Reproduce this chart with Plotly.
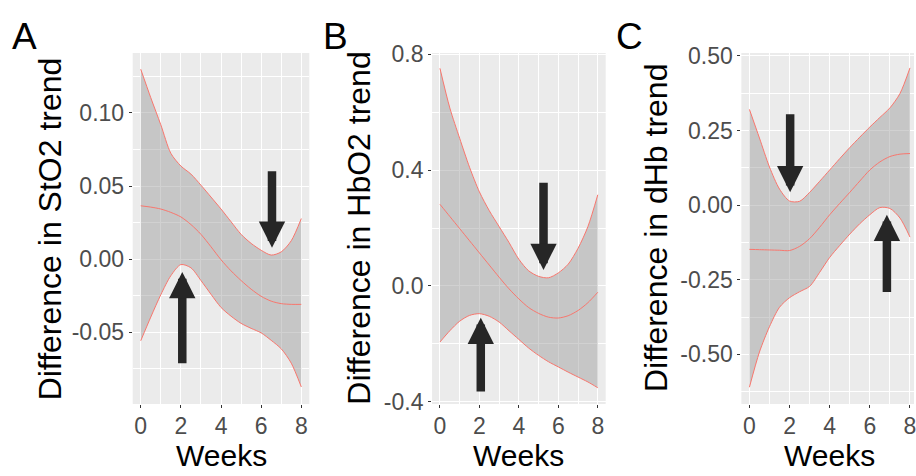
import plotly.graph_objects as go

weeks = [0, 0.5, 1, 1.5, 2, 2.5, 3, 3.5, 4, 4.5, 5, 5.5, 6, 6.5, 7, 7.5, 8]

sto2_upper = [0.1299, 0.1104, 0.0919, 0.0724, 0.0637, 0.0582, 0.0506, 0.0425, 0.0343, 0.0256, 0.0170, 0.0108, 0.0061, 0.0028, 0.0050, 0.0126, 0.0278]
sto2_mid = [0.0365, 0.0356, 0.0343, 0.0320, 0.0289, 0.0237, 0.0170, 0.0085, -0.0004, -0.0080, -0.0146, -0.0205, -0.0254, -0.0287, -0.0304, -0.0309, -0.0309]
sto2_lower = [-0.0558, -0.0396, -0.0243, -0.0113, -0.0037, -0.0059, -0.0146, -0.0240, -0.0330, -0.0390, -0.0439, -0.0473, -0.0504, -0.0555, -0.0613, -0.0711, -0.0874]

hbo2_upper = [0.752, 0.615, 0.510, 0.410, 0.325, 0.260, 0.205, 0.150, 0.092, 0.052, 0.033, 0.028, 0.045, 0.075, 0.130, 0.205, 0.315]
hbo2_mid = [0.282, 0.240, 0.198, 0.156, 0.114, 0.072, 0.030, -0.010, -0.045, -0.075, -0.095, -0.108, -0.111, -0.103, -0.085, -0.058, -0.022]
hbo2_lower = [-0.194, -0.155, -0.122, -0.102, -0.096, -0.105, -0.125, -0.155, -0.185, -0.215, -0.240, -0.262, -0.280, -0.298, -0.315, -0.332, -0.352]

dhb_upper = [0.321, 0.225, 0.128, 0.054, 0.014, 0.013, 0.043, 0.080, 0.118, 0.156, 0.193, 0.228, 0.262, 0.294, 0.326, 0.374, 0.460]
dhb_mid = [-0.148, -0.149, -0.150, -0.151, -0.152, -0.138, -0.112, -0.074, -0.032, 0.006, 0.043, 0.081, 0.118, 0.145, 0.163, 0.171, 0.173]
dhb_lower = [-0.610, -0.492, -0.407, -0.342, -0.310, -0.290, -0.272, -0.225, -0.175, -0.135, -0.097, -0.062, -0.032, -0.008, -0.011, -0.043, -0.107]

x_ticks = [0, 2, 4, 6, 8]
x_ticktext = ["0", "2", "4", "6", "8"]
sto2_ticks = [-0.05, 0.0, 0.05, 0.10]
sto2_ticktext = ["-0.05", "0.00", "0.05", "0.10"]
hbo2_ticks = [-0.4, 0.0, 0.4, 0.8]
hbo2_ticktext = ["-0.4", "0.0", "0.4", "0.8"]
dhb_ticks = [-0.50, -0.25, 0.0, 0.25, 0.50]
dhb_ticktext = ["-0.50", "-0.25", "0.00", "0.25", "0.50"]

titles = ["Difference in StO2 trend", "Difference in HbO2 trend", "Difference in dHb trend"]
x_title = "Weeks"
panel_letters = ["A", "B", "C"]

# arrows: (week, tail value, tip value)
sto2_arrows = [(6.54, 0.0611, 0.0078), (2.07, -0.0722, -0.0087)]
hbo2_arrows = [(5.25, 0.362, 0.055), (2.07, -0.370, -0.110)]
dhb_arrows = [(2.03, 0.310, 0.043), (6.85, -0.296, -0.032)]

W, H = 916, 476
FONT = "Liberation Sans"
LINE = "#F8766D"
RIBBON = "rgba(153,153,153,0.45)"
ARROW = "#262626"

panels = [
    dict(up=sto2_upper, mid=sto2_mid, lo=sto2_lower, ticks=sto2_ticks, tt=sto2_ticktext,
         yrange=[-0.099, 0.141], ydt=0.025, xpx=(133, 310), xrange=[-0.4, 8.4], arrows=sto2_arrows,
         title_x=51, letter_x=24.5, center_x=221.5),
    dict(up=hbo2_upper, mid=hbo2_mid, lo=hbo2_lower, ticks=hbo2_ticks, tt=hbo2_ticktext,
         yrange=[-0.408, 0.805], ydt=0.2, xpx=(433, 607), xrange=[-0.4, 8.4], arrows=hbo2_arrows,
         title_x=360, letter_x=336, center_x=520),
    dict(up=dhb_upper, mid=dhb_mid, lo=dhb_lower, ticks=dhb_ticks, tt=dhb_ticktext,
         yrange=[-0.666, 0.510], ydt=0.125, xpx=(743, 916), xrange=[-0.4, 8.2], arrows=dhb_arrows,
         title_x=658, letter_x=631, center_x=831),
]

plot_top, plot_bot = 44, 412
ydom = [(H - plot_bot) / H, (H - plot_top) / H]

fig = go.Figure()
annotations = []
for i, p in enumerate(panels):
    n = "" if i == 0 else str(i + 1)
    xa, ya = "x" + n, "y" + n
    line = dict(color=LINE, width=1, shape="spline", smoothing=0.8)
    fig.add_trace(go.Scatter(x=weeks, y=p["lo"], mode="lines", line=line,
                             xaxis=xa, yaxis=ya, showlegend=False, hoverinfo="skip"))
    fig.add_trace(go.Scatter(x=weeks, y=p["up"], mode="lines", line=line,
                             fill="tonexty", fillcolor=RIBBON,
                             xaxis=xa, yaxis=ya, showlegend=False, hoverinfo="skip"))
    fig.add_trace(go.Scatter(x=weeks, y=p["mid"], mode="lines", line=line,
                             xaxis=xa, yaxis=ya, showlegend=False, hoverinfo="skip"))
    xdom = [p["xpx"][0] / W, p["xpx"][1] / W]
    common = dict(showline=False, zeroline=False, gridcolor="white", gridwidth=1.1,
                  ticks="outside", ticklen=3, tickwidth=1, tickcolor="#333333",
                  ticklabeloverflow="allow",
                  tickfont=dict(family=FONT, size=23, color="#4D4D4D"))
    fig.update_layout(**{
        "xaxis" + n: dict(domain=xdom, range=p["xrange"], anchor=ya, tickmode="array", tickvals=x_ticks,
                          ticktext=x_ticktext, ticklabelstandoff=-2,
                          minor=dict(dtick=1, tick0=0, showgrid=True, gridcolor="white", gridwidth=0.5, ticks=""),
                          **common),
        "yaxis" + n: dict(domain=ydom, range=p["yrange"], anchor=xa, tickmode="array", tickvals=p["ticks"],
                          ticktext=p["tt"],
                          minor=dict(dtick=p["ydt"], tick0=0, showgrid=True, gridcolor="white", gridwidth=0.5, ticks=""),
                          **common),
    })
    for (wx, tail, tip) in p["arrows"]:
        annotations.append(dict(x=wx, y=tip, ax=wx, ay=tail, xref=xa, yref=ya, axref=xa, ayref=ya,
                                text="", showarrow=True, arrowhead=2, arrowsize=0.62, arrowwidth=8.5,
                                arrowcolor=ARROW, standoff=0))
    annotations.append(dict(x=p["title_x"] / W, y=(H - (plot_top + plot_bot) / 2) / H, xref="paper", yref="paper",
                            text=titles[i], showarrow=False, textangle=-90, xanchor="center", yanchor="middle",
                            font=dict(family=FONT, size=32, color="black")))
    annotations.append(dict(x=p["center_x"] / W, y=(H - 466) / H, xref="paper", yref="paper",
                            text=x_title, showarrow=False, xanchor="center", yanchor="middle",
                            font=dict(family=FONT, size=30, color="black")))
    annotations.append(dict(x=p["letter_x"] / W, y=(H - 27) / H, xref="paper", yref="paper",
                            text=panel_letters[i], showarrow=False, xanchor="center", yanchor="middle",
                            font=dict(family=FONT, size=37, color="black")))

fig.update_layout(width=W, height=H, margin=dict(l=0, r=0, t=0, b=0),
                  paper_bgcolor="white", plot_bgcolor="#EBEBEB", annotations=annotations)
fig.write_html("out.html")
